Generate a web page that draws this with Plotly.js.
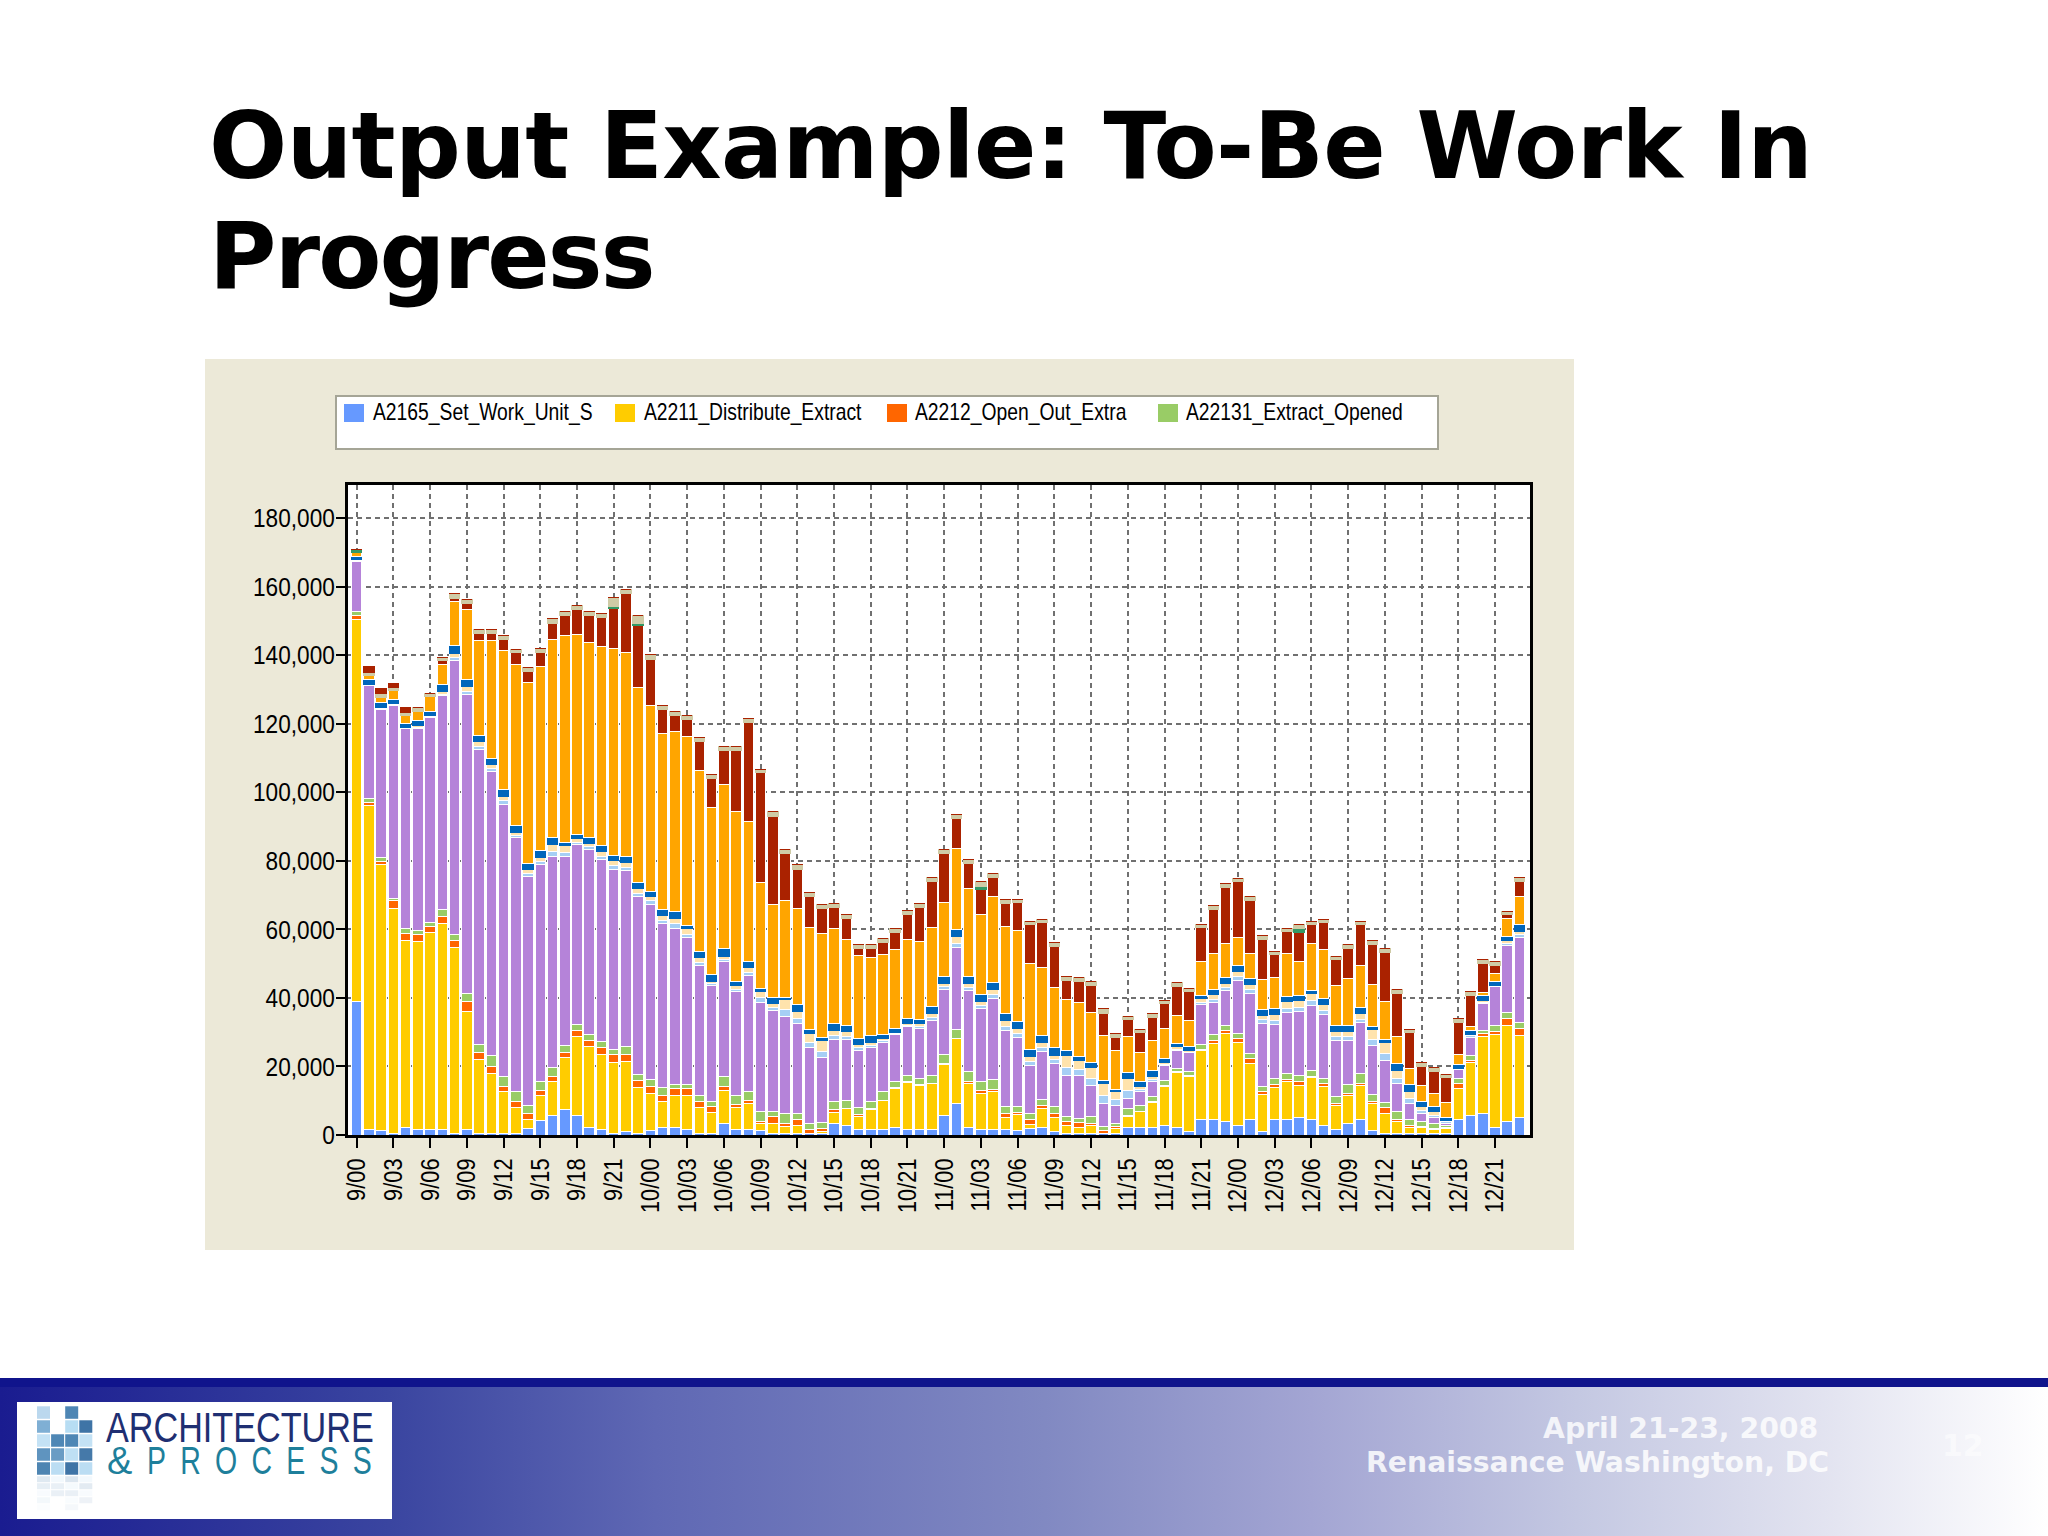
<!DOCTYPE html>
<html><head><meta charset="utf-8">
<script src="https://cdn.plot.ly/plotly-3.0.1.min.js"></script>
<style>
html,body{margin:0;padding:0;background:#fff;width:2048px;height:1536px;overflow:hidden}
.box{position:absolute}
#chart{position:absolute;left:0;top:0;width:2048px;height:1536px}
</style></head><body>
<div class="box" style="left:205px;top:359px;width:1369px;height:891px;background:#ECE9D8"></div>
<div class="box" style="left:335px;top:395px;width:1100px;height:51px;background:#fff;border:2px solid #A5A596"></div>
<div class="box" style="left:0;top:1378px;width:2048px;height:158px;background:linear-gradient(90deg,#1a1c90 0%,#3a45a0 19%,#5f68b4 32%,#8189c2 51%,#a3a5d3 64%,#c4c8e2 77%,#e2e3f0 89%,#ffffff 100%)"></div>
<div class="box" style="left:0;top:1378px;width:2048px;height:9px;background:#10148c"></div>
<div class="box" style="left:17px;top:1402px;width:375px;height:117px;background:#fff"></div>
<div id="chart"></div>
<script>
var months = [9, 10, 11, 12];
var categories = [];
months.forEach(function (m) { for (var h = 0; h < 24; h++) categories.push(m + '/' + (h < 10 ? '0' : '') + h); });
var tickLabels = ['9/00','9/03','9/06','9/09','9/12','9/15','9/18','9/21','10/00','10/03','10/06','10/09','10/12','10/15','10/18','10/21','11/00','11/03','11/06','11/09','11/12','11/15','11/18','11/21','12/00','12/03','12/06','12/09','12/12','12/15','12/18','12/21'];

var blue = [39100,1500,1300,500,2100,1500,1500,1500,300,1600,
300,300,300,300,1900,4100,5800,7500,5800,2200,
1600,300,1000,300,1200,2200,2200,1600,300,300,
3400,1500,1600,1200,500,300,300,300,300,3400,
2700,1500,1500,1500,2200,1500,1500,1500,5800,9200,
2200,1500,1500,1500,1300,1900,2100,1000,500,500,
300,300,300,2100,2100,2100,2700,2100,1000,4600,
4600,3900,2700,4600,1000,4600,4600,5000,4600,2700,
1500,3400,4600,1200,300,300,300,300,300,300,
4600,5600,6300,2100,3900,5100];
var yellow = [111300,94800,77600,65700,54800,55100,57700,60300,54300,34500,
21700,17700,12300,7700,2700,7300,9900,15000,23000,23700,
21900,21000,20400,13600,11000,7700,9400,10000,7700,6200,
9700,6500,7600,2200,2900,2100,2600,200,700,3200,
4900,3900,5800,8500,11300,13900,12900,13400,14700,18900,
12800,10700,11300,3600,4600,1200,5600,4100,2400,1600,
2600,200,1600,3200,4700,7400,11500,16100,16000,20200,
22100,25700,24300,16300,10700,9200,11000,9500,12100,11600,
7100,8100,9800,8100,6000,3600,1800,1800,1200,1500,
9000,15700,22500,27300,28100,24000];
var orange = [1200,800,900,2200,2000,1900,1700,1900,2100,2800,
2000,2100,1600,1700,1600,1700,1500,1600,1700,1700,
2100,2200,2200,2100,2100,1600,1900,1900,1900,1700,
1000,800,1000,500,1900,1000,1500,1000,1000,700,
200,500,300,200,300,200,200,200,300,200,
500,700,600,1300,700,1300,1000,1300,1000,1600,
500,700,500,500,200,200,300,400,500,200,
1000,1000,1200,1500,1000,800,500,1000,300,700,
700,700,700,500,1600,500,800,300,500,400,
1500,500,800,700,1900,1900];
var green = [1300,1200,1300,500,1400,1200,1200,2000,1900,2500,
2500,3000,3000,3100,2400,2600,2500,2100,1700,1700,
1600,1600,2100,1600,1900,2400,1300,1300,1700,1700,
2900,2700,2600,3100,1500,2900,1900,1900,1700,2400,
2400,2100,2100,2600,1800,1900,1900,2400,2600,2500,
2900,2700,2800,1900,1700,1900,1700,1900,1500,1200,
1900,1300,1000,1900,1700,1500,1500,800,1000,1300,
1600,1500,1500,1500,1500,1900,1900,1900,1900,1500,
1900,2400,2900,1900,1700,2400,1500,1500,1500,600,
1500,1300,1000,1900,1900,1900];
var purple = [14500,32800,43200,56500,58200,58900,59700,62500,80000,87300,
86100,83100,79400,74000,66700,63100,61600,55100,52600,54000,
53200,52400,51400,51900,51200,47700,45600,42700,37800,33800,
33700,30500,33800,31800,29400,28300,26200,22000,18800,18200,
17800,16800,15700,14200,13700,14100,14700,16000,19200,24000,
23800,21300,23600,22300,20100,14100,14000,12600,12100,12600,
9200,6800,5300,2900,3900,4400,4200,5300,5500,11800,
9300,10200,15500,17500,18400,15700,17700,18600,18900,18600,
16500,13100,14800,14300,12100,8200,4900,2400,1500,700,
2400,5500,7800,11200,19600,24700];
var paleBlue = [200,200,200,200,100,300,200,500,800,800,
900,800,900,600,900,900,1400,1200,700,800,
1000,1100,1000,1000,900,1000,1200,1100,1000,400,
500,600,900,1200,900,2000,1400,1700,2000,1000,
800,700,700,500,200,400,500,800,600,1200,
800,800,1100,1100,1100,1000,1000,1000,2200,1700,
2100,2200,1600,2300,600,600,400,400,200,600,
1000,800,1000,1000,1000,1200,1300,1300,1400,1200,
1000,1000,1000,1900,2100,1600,1400,800,800,300,
200,300,400,100,500,800];
var cream = [400,300,300,300,200,500,300,800,1100,1300,
1300,1100,1300,1000,1400,1300,2200,1900,1000,1100,
1400,1600,1400,1400,1300,1400,1700,1700,1400,600,
800,1000,1300,1900,1400,2900,2200,2500,3100,1600,
1300,1000,1000,700,300,600,800,1100,900,1900,
1100,1300,1600,1600,1600,1400,1500,1400,3400,2500,
3200,3400,2300,3500,900,900,600,600,400,1000,
1400,1100,1600,1400,1400,1700,1900,1900,2000,1800,
1400,1400,1600,2800,3200,2300,2000,1100,1100,400,
300,400,600,200,800,1100];
var darkBlue = [800,1300,1300,1300,1300,1500,1300,1900,2400,2100,
1900,1900,1900,1900,1700,1900,1900,1000,1200,1600,
1600,1400,1700,1700,1600,1700,1800,800,1900,2100,
2400,1200,1900,800,1700,700,1900,1300,1000,1900,
1900,1800,1900,1200,1200,1300,1300,2200,2200,2200,
2200,2100,2100,2100,1900,2200,2100,2100,1600,1200,
1500,900,800,1900,1500,1600,1200,1000,1200,1000,
1600,1900,1700,1900,1700,1700,1500,1500,1000,1600,
1900,1900,1900,1000,1000,1900,1900,1500,1500,1000,
1200,1100,1200,1200,1200,1900];
var amber = [1200,1200,1700,2400,2300,2700,4300,6000,12900,20600,
27500,34200,40700,47100,52800,53800,57700,60300,58400,56800,
58200,60400,59700,56900,54100,51600,52800,55100,52600,48800,
48000,49700,40900,31000,27000,28100,28100,29600,30100,27900,
25100,24100,22900,23200,23100,23100,22600,22900,21500,23400,
25600,23300,25000,25500,26800,25000,19800,17700,14900,15900,
14400,13200,11300,10400,8500,8900,8700,8300,7600,10000,
10300,9800,8100,7400,8700,9100,12700,9800,13700,14400,
11700,13600,12100,12200,11000,7900,4900,4700,3800,4300,
2900,1400,900,2500,5200,8100];
var darkRed = [0,0,0,0,0,0,0,1000,900,1600,
2100,2100,3100,3300,3300,4100,4900,6000,7200,7900,
8300,11800,17200,18200,13600,6800,4500,5000,8500,8500,
9700,17600,28900,32000,25900,13900,11400,9000,7400,6100,
6000,2000,2400,3600,4900,7400,10100,13600,14400,8900,
7200,7200,5600,6800,8000,11300,13200,12000,5600,6100,
8000,6600,3900,4900,5700,6800,7300,8400,8400,9800,
13000,16400,16400,15400,11800,6700,6200,8600,5500,8000,
7400,8900,11900,11800,14300,12700,10400,5700,6400,7200,
9300,9000,8600,2300,1200,4600];
var teal = [1000,0,0,0,0,0,0,0,0,0,
0,0,0,0,0,0,0,0,0,0,
0,500,0,500,0,0,0,0,0,0,
0,0,0,0,0,0,0,0,0,0,
0,0,0,0,0,0,0,0,0,0,
0,1000,0,0,0,0,0,0,0,0,
0,0,0,0,0,0,0,0,0,0,
0,0,0,0,0,0,0,1200,0,0,
0,0,0,0,0,0,0,0,0,0,
0,0,0,0,0,0];
var khaki = [0,1000,1000,1000,1000,1200,1000,1100,1300,1200,
1200,1200,1300,1100,1000,1100,1200,1200,1200,1200,
1200,2500,1200,2300,1200,1200,1100,1200,1200,1200,
1200,1200,1200,1000,1200,1200,1300,1200,1200,1200,
1200,1200,1200,1200,1200,1200,1200,1100,1200,1200,
1200,1300,1200,1000,1000,1000,1000,1000,1000,1000,
1000,1200,1000,1000,1000,1000,1000,1000,1000,1000,
1000,1000,1000,1000,1000,1000,1000,1000,1000,800,
1000,1000,1000,1000,1000,1000,1000,1000,1000,1000,
1000,1000,1000,1000,1000,1000];
var redCap = [0,1500,1500,1200,1300,0,0,0,0,0,
0,0,0,0,0,0,0,0,0,0,
0,0,0,0,0,0,0,0,0,0,
0,0,0,0,0,0,0,0,0,0,
0,0,0,0,0,0,0,0,0,0,
0,0,0,0,0,0,0,0,0,0,
0,0,0,0,0,0,0,0,0,0,
0,0,0,0,0,0,0,0,0,0,
0,0,0,0,0,0,0,0,0,0,
0,0,0,0,0,0];

var seriesDefs = [
  ['A2165_Set_Work_Unit_S', blue, '#6699FF', true, '#FFFFFF'],
  ['A2211_Distribute_Extract', yellow, '#FFCC00', true, '#FFFFFF'],
  ['A2212_Open_Out_Extra', orange, '#FF6600', true, '#FFFFFF'],
  ['A22131_Extract_Opened', green, '#99CC66', true, '#FFFFFF'],
  ['Purple', purple, '#B583D9', false, '#FFFFFF'],
  ['Pale blue', paleBlue, '#A6CFF5', false, '#FFFFFF'],
  ['Cream', cream, '#FFE3AC', false, '#FFFFFF'],
  ['Dark blue', darkBlue, '#0066BB', false, '#0066BB'],
  ['Amber', amber, '#FFA500', false, '#FFFFFF'],
  ['Dark red', darkRed, '#AA2200', false, '#FFFFFF'],
  ['Teal', teal, '#339966', false, '#339966'],
  ['Khaki', khaki, '#CFCBA6', false, '#CFCBA6'],
  ['Dark red cap', redCap, '#AA2200', false, '#AA2200']
];

var traces = seriesDefs.map(function (s) {
  return { type: 'bar', name: s[0], x: categories, y: s[1], showlegend: s[3],
    marker: { color: s[2], line: { color: s[4], width: 1 } }, hoverinfo: 'x+y+name' };
});

var PL = 348, PR = 1530, PT = 485, PB = 1135.5;
function xp(px) { return (px - PL) / (PR - PL); }
function yp(py) { return (PB - py) / (PB - PT); }
var SANS = '"Liberation Sans", Arial, sans-serif';
var BOLD = '"DejaVu Sans", Verdana, sans-serif';

function note(text, px, py, size, color, family, anchor) {
  return { text: text, xref: 'paper', yref: 'paper', x: xp(px), y: yp(py), xanchor: anchor || 'left', yanchor: 'middle',
    showarrow: false, align: anchor || 'left', font: { size: size, color: color, family: family } };
}

var annotations = [
  note('<b>April 21-23, 2008</b>', 1820, 1429, 28.3, 'rgba(255,255,255,0.82)', BOLD, 'right'),
  note('<b>Renaissance Washington, DC</b>', 1831, 1463, 28.3, 'rgba(255,255,255,0.85)', BOLD, 'right'),
  note('<b>12</b>', 1963, 1446, 30, 'rgba(255,255,255,0.55)', BOLD, 'center'),
  note('ARCHITECTURE', 104, 1428, 42, '#1F2F72', SANS, 'left'),
  note('&', 105, 1462, 38, '#1E7F9B', SANS, 'left'),
  note('P\u2002R\u2002O\u2002C\u2002E\u2002S\u2002S', 374, 1462, 38, '#1E7F9B', SANS, 'right')
];

var logoCells = [
  [0,0,'#BBD8EE'],[2,0,'#4E86B4'],
  [0,1,'#7FAFD4'],[2,1,'#B7DDF3'],[3,1,'#3F74A6'],
  [0,2,'#C4E2F5'],[1,2,'#4F87B5'],[2,2,'#4F87B5'],[3,2,'#C4E2F5'],
  [0,3,'#5F94BF'],[1,3,'#6A9CC4'],[2,3,'#BFE0F4'],[3,3,'#4579A9'],
  [0,4,'#4E85B2'],[1,4,'#BBDDF3'],[2,4,'#3F74A6'],[3,4,'#BBDDF3']
];
var shapes = [];
logoCells.forEach(function (c) {
  var x0 = 37 + c[0] * 14.1, y0 = 1407 + c[1] * 14;
  shapes.push({ type: 'rect', xref: 'paper', yref: 'paper', x0: xp(x0), x1: xp(x0 + 13), y0: yp(y0), y1: yp(y0 + 12.5),
    fillcolor: c[2], line: { width: 0 } });
  var ry = 1407 + 5 * 14 + (4 - c[1]) * 7;
  shapes.push({ type: 'rect', xref: 'paper', yref: 'paper', x0: xp(x0), x1: xp(x0 + 13), y0: yp(ry), y1: yp(ry + 6),
    fillcolor: c[2], opacity: 0.18 - (4 - c[1]) * 0.03, line: { width: 0 } });
});

var layout = {
  width: 2048, height: 1536,
  margin: { l: PL, r: 2048 - PR, t: PT, b: 1536 - PB, pad: 0, autoexpand: false },
  paper_bgcolor: 'rgba(0,0,0,0)', plot_bgcolor: '#FFFFFF',
  barmode: 'stack', bargap: 0.14,
  separators: '.,',
  title: { text: '<b>Output Example: To-Be Work In<br>Progress</b>', x: 209 / 2048, xanchor: 'left', xref: 'container',
    y: 1 - 178 / 1536, yanchor: 'alphabetic', font: { family: BOLD, size: 92, color: '#000000' } },
  xaxis: { type: 'category', categoryorder: 'array', categoryarray: categories,
    range: [-0.71, 95.86], tickmode: 'array', tickvals: tickLabels, ticktext: tickLabels,
    tickangle: -90, ticks: 'outside', ticklen: 10, tickwidth: 2, tickcolor: '#000',
    showline: true, linecolor: '#000', linewidth: 3, mirror: true,
    showgrid: true, gridcolor: '#707070', gridwidth: 2, griddash: '5px,4px', zeroline: false,
    tickfont: { family: SANS, size: 26, color: '#000' } },
  yaxis: { range: [0, 189700], tick0: 0, dtick: 20000, tickformat: ',d',
    ticks: 'outside', ticklen: 9, tickwidth: 2, tickcolor: '#000',
    showline: true, linecolor: '#000', linewidth: 3, mirror: true,
    showgrid: true, gridcolor: '#707070', gridwidth: 2, griddash: '5px,4px', zeroline: false,
    tickfont: { family: SANS, size: 26, color: '#000' } },
  showlegend: true,
  legend: { orientation: 'h', x: xp(333), y: yp(389.3), xanchor: 'left', yanchor: 'top', bgcolor: 'rgba(0,0,0,0)', borderwidth: 0,
    entrywidth: 226, entrywidthmode: 'pixels', traceorder: 'normal', font: { family: SANS, size: 23, color: '#000' } },
  annotations: annotations, shapes: shapes
};

// The reference's labels are a narrow face that is not installed: squeeze the real text horizontally.
function condense(el, sx, side, shift) {
  var b = el.getBBox();
  var o = side === 'right' ? b.x + b.width : b.x;
  var t = el.getAttribute('transform') || '';
  el.setAttribute('transform', t + ' translate(' + (o + (shift || 0)) + ',0) scale(' + sx + ',1) translate(' + (-o) + ',0)');
}

Plotly.newPlot('chart', traces, layout, { displayModeBar: false }).then(function () {
  var lines = document.querySelectorAll('.gtitle tspan.line');
  if (lines.length > 1) {
    lines[1].setAttribute('dy', '110px');
    lines[0].style.letterSpacing = '-0.58px';
    lines[1].style.letterSpacing = '-1.8px';
  }
  document.querySelectorAll('.ytick text').forEach(function (t) { condense(t, 0.87, 'right', 4); });
  document.querySelectorAll('.xtick text').forEach(function (t) { condense(t, 0.84, 'right'); });
  document.querySelectorAll('.legendtext').forEach(function (t) { condense(t, 0.84, 'left'); });
  document.querySelectorAll('.annotation-text').forEach(function (t) {
    var s = t.textContent;
    if (s === 'ARCHITECTURE') condense(t, 0.814, 'left');
    else if (s.charAt(0) === 'P') condense(t, 0.75, 'right');
  });
  seriesDefs.slice(0, 4).forEach(function (s, i) {
    var d = document.createElement('div');
    d.className = 'box';
    d.style.cssText = 'left:' + (344 + i * 271.4) + 'px;top:404px;width:20px;height:18px;background:' + s[2] + ';pointer-events:none';
    document.body.appendChild(d);
  });
});
</script>
</body></html>
